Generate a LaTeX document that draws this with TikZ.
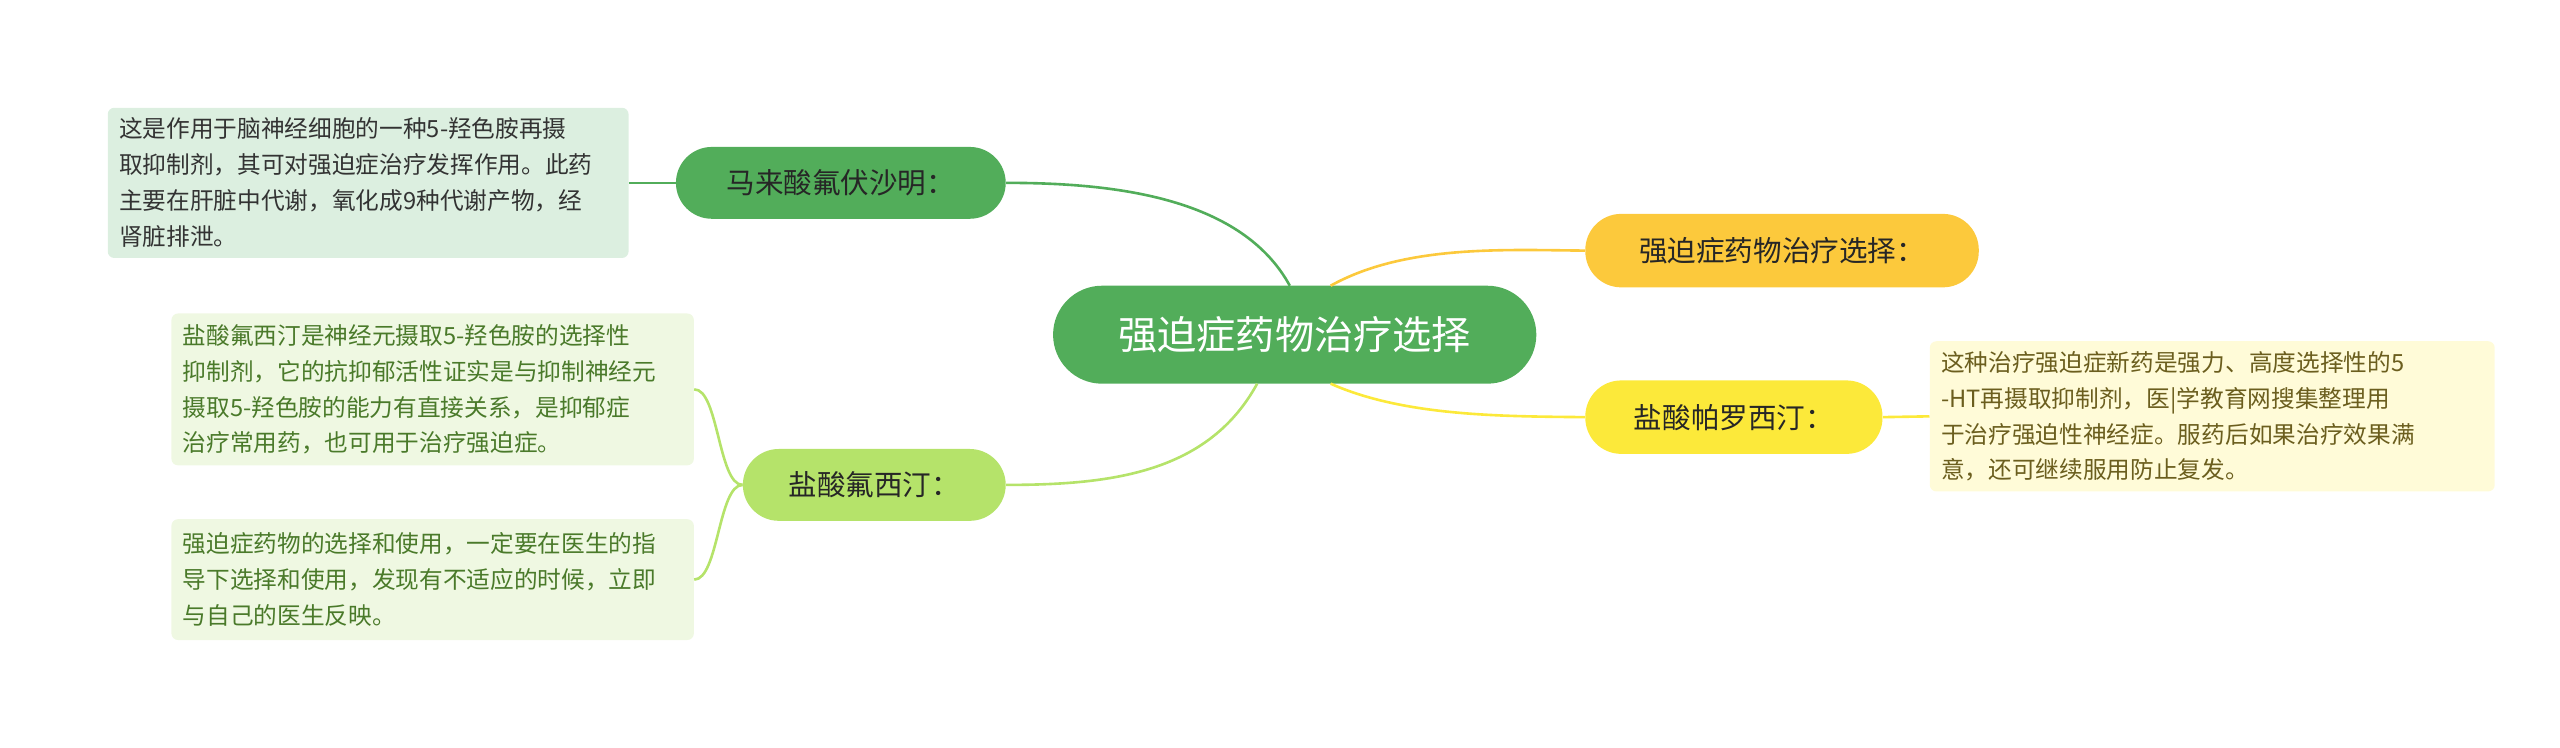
\documentclass[tikz,border=0pt]{standalone}
\usepackage{fontspec}
\setmainfont{Noto Sans CJK SC}
\definecolor{cg}{HTML}{52AD5A}\definecolor{lg}{HTML}{B5E36A}
\definecolor{am}{HTML}{FCC93C}\definecolor{ye}{HTML}{FCE93A}
\definecolor{f1}{HTML}{DCEFE0}\definecolor{f2}{HTML}{EFF8E2}\definecolor{f4}{HTML}{FFFBD8}
\definecolor{t2}{HTML}{4A7A2A}\definecolor{t4}{HTML}{6B5E1E}
\begin{document}
\begin{tikzpicture}[x=1pt,y=-1pt,
  topic/.style={rounded corners=22pt,inner sep=0pt,font=\fontsize{17.5}{20}\selectfont,text=black!85},
  leaf/.style={rounded corners=4pt,inner sep=0pt,align=left,font=\fontsize{14.5}{22}\selectfont,text=black!80},
  conn/.style={line width=1.6pt}]
\useasboundingbox (0,0) rectangle (1568,458);
\node[fill=cg,rounded corners=30pt,minimum width=296pt,minimum height=60pt,text=white,font=\fontsize{24}{26}\selectfont] (c) at (793,205) {强迫症药物治疗选择};
\node[topic,fill=cg,minimum width=202pt,minimum height=44pt] (a) at (515,112) {马来酸氟伏沙明：};
\node[topic,fill=lg,minimum width=161pt,minimum height=44pt] (b) at (535.5,297) {盐酸氟西汀：};
\node[topic,fill=am,minimum width=241pt,minimum height=45pt] (d) at (1091.5,153.5) {强迫症药物治疗选择：};
\node[topic,fill=ye,minimum width=182pt,minimum height=45pt] (e) at (1062,255.5) {盐酸帕罗西汀：};
\node[leaf,fill=f1,minimum width=319pt,minimum height=92pt,text width=305pt] (l1) at (225.5,112) {这是作用于脑神经细胞的一种5-羟色胺再摄\\取抑制剂，其可对强迫症治疗发挥作用。此药\\主要在肝脏中代谢，氧化成9种代谢产物，经\\肾脏排泄。};
\node[leaf,fill=f2,minimum width=320pt,minimum height=93pt,text width=306pt,text=t2] (l2) at (265,238.5) {盐酸氟西汀是神经元摄取5-羟色胺的选择性\\抑制剂，它的抗抑郁活性证实是与抑制神经元\\摄取5-羟色胺的能力有直接关系，是抑郁症\\治疗常用药，也可用于治疗强迫症。};
\node[leaf,fill=f2,minimum width=320pt,minimum height=74pt,text width=306pt,text=t2] (l3) at (265,355) {强迫症药物的选择和使用，一定要在医生的指\\导下选择和使用，发现有不适应的时候，立即\\与自己的医生反映。};
\node[leaf,fill=f4,minimum width=346pt,minimum height=92pt,text width=332pt,text=t4] (l4) at (1355,255) {这种治疗强迫症新药是强力、高度选择性的5\\-HT再摄取抑制剂，医|学教育网搜集整理用\\于治疗强迫性神经症。服药后如果治疗效果满\\意，还可继续服用防止复发。};
\draw[conn,draw=cg] (790,175) .. controls (760,120) and (680,112) .. (a.east);
\draw[conn,draw=lg] (770,235) .. controls (740,290) and (680,297) .. (b.east);
\draw[conn,draw=am] (815,175) .. controls (860,150) and (920,153) .. (d.west);
\draw[conn,draw=ye] (815,235) .. controls (860,255) and (920,255) .. (e.west);
\draw[conn,draw=cg] (l1.east) -- (a.west);
\draw[conn,draw=ye] (e.east) -- (l4.west);
\draw[conn,draw=lg] (b.west) .. controls (440,297) and (440,238) .. (l2.east);
\draw[conn,draw=lg] (b.west) .. controls (440,297) and (440,355) .. (l3.east);
\end{tikzpicture}
\end{document}
